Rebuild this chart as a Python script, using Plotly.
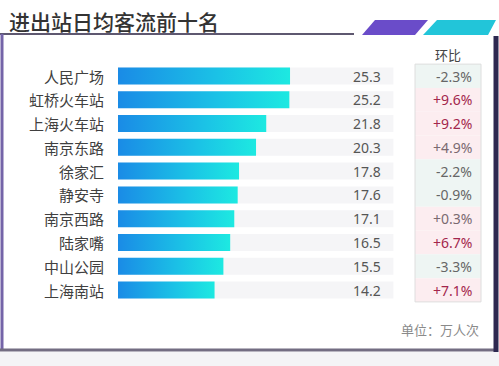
import plotly.graph_objects as go

stations = ["人民广场", "虹桥火车站", "上海火车站", "南京东路", "徐家汇",
            "静安寺", "南京西路", "陆家嘴", "中山公园", "上海南站"]
flows = [25.3, 25.2, 21.8, 20.3, 17.8, 17.6, 17.1, 16.5, 15.5, 14.2]
changes = [-2.3, 9.6, 9.2, 4.9, -2.2, -0.9, 0.3, 6.7, -3.3, 7.1]
title_text = "进出站日均客流前十名"
unit_text = "单位：万人次"
header_text = "环比"

W, H = 499, 366
X0 = 118.0          # pixel where value 0 sits
SX = 6.8            # pixels per unit
Y0 = 76.0           # pixel center of first row
SY = 23.78          # pixels per row
TRACK_MAX = 40.5

def ux(p):
    return (p - X0) / SX

def uy(p):
    return (p - Y0) / SY

CJK = "Noto Sans CJK SC"

fig = go.Figure()

half = 8.5 / SY
# background tracks
for i, v in enumerate(flows):
    fig.add_trace(go.Scatter(
        x=[0, TRACK_MAX, TRACK_MAX, 0, 0],
        y=[i - half, i - half, i + half, i + half, i - half],
        mode="lines", fill="toself", line=dict(width=0),
        fillcolor="#f5f5f7", hoverinfo="skip", showlegend=False))
# gradient bars
for i, v in enumerate(flows):
    fig.add_trace(go.Scatter(
        x=[0, v, v, 0, 0],
        y=[i - half, i - half, i + half, i + half, i - half],
        mode="lines", fill="toself", line=dict(width=0),
        fillgradient=dict(type="horizontal",
                          colorscale=[[0, "#1a8be6"], [0.6, "#1bc4e6"], [1, "#1de9e1"]]),
        hoverinfo="skip", showlegend=False))

annotations = []
shapes = []

# category labels
for i, s in enumerate(stations):
    annotations.append(dict(x=ux(106), y=i, xref="x", yref="y", text=s,
                            showarrow=False, xanchor="right", yanchor="middle",
                            font=dict(family=CJK, size=15, color="#404040")))
# value labels
for i, v in enumerate(flows):
    annotations.append(dict(x=ux(383), y=i, xref="x", yref="y", text=f"{v:.1f}",
                            showarrow=False, xanchor="right", yanchor="middle",
                            font=dict(family="Noto Sans", size=14, color="#555555")))
# change table
for i, c in enumerate(changes):
    pos = c > 0
    fill = "#fcedf0" if pos else "#eef5f3"
    shapes.append(dict(type="rect", xref="x", yref="y",
                       x0=ux(415), x1=ux(481), y0=i - 0.5, y1=i + 0.5,
                       fillcolor=fill, line=dict(width=0), layer="below"))
    txt = f"+{c:.1f}%" if pos else f"{c:.1f}%"
    col = "#a3264c" if c > 5 else ("#7a6a70" if pos else "#666666")
    annotations.append(dict(x=ux(474), y=i, xref="x", yref="y", text=txt,
                            showarrow=False, xanchor="right", yanchor="middle",
                            font=dict(family="Noto Sans", size=14, color=col)))
shapes.append(dict(type="rect", xref="x", yref="y",
                   x0=ux(415), x1=ux(481), y0=-0.5, y1=len(changes) - 0.5,
                   line=dict(color="#dedede", width=1)))
annotations.append(dict(x=ux(448), y=uy(54), xref="x", yref="y", text=header_text,
                        showarrow=False, xanchor="center", yanchor="middle",
                        font=dict(family=CJK, size=13, color="#444444")))
annotations.append(dict(x=ux(481), y=uy(329), xref="x", yref="y", text=unit_text,
                        showarrow=False, xanchor="right", yanchor="middle",
                        font=dict(family=CJK, size=13, color="#8a8a8a")))
# title
annotations.append(dict(x=ux(7), y=uy(21), xref="x", yref="y", text=title_text,
                        showarrow=False, xanchor="left", yanchor="middle",
                        font=dict(family=CJK, size=21, color="#333333", weight=500)))

# frame
shapes.append(dict(type="line", xref="x", yref="y", x0=ux(0), x1=ux(354),
                   y0=uy(34), y1=uy(34), line=dict(color="#5e5870", width=2)))
shapes.append(dict(type="line", xref="x", yref="y", x0=ux(2), x1=ux(2),
                   y0=uy(34), y1=uy(351), line=dict(color="#7464a8", width=3)))
shapes.append(dict(type="line", xref="x", yref="y", x0=ux(0), x1=ux(496),
                   y0=uy(350), y1=uy(350), line=dict(color="#736d82", width=3)))
shapes.append(dict(type="line", xref="x", yref="y", x0=ux(496), x1=ux(496),
                   y0=uy(36), y1=uy(352), line=dict(color="#2d2850", width=5)))
shapes.append(dict(type="rect", xref="x", yref="y", x0=ux(0), x1=ux(499),
                   y0=uy(352), y1=uy(366), fillcolor="#f4f4f6",
                   line=dict(width=0), layer="below"))
# parallelograms
shapes.append(dict(type="path", xref="x", yref="y",
                   path=f"M {ux(362)},{uy(35)} L {ux(375)},{uy(20)} L {ux(428)},{uy(20)} L {ux(415)},{uy(35)} Z",
                   fillcolor="#6a4cc9", line=dict(width=0)))
shapes.append(dict(type="path", xref="x", yref="y",
                   path=f"M {ux(423)},{uy(35)} L {ux(437)},{uy(20)} L {ux(496)},{uy(20)} L {ux(488)},{uy(35)} Z",
                   fillcolor="#22c5d9", line=dict(width=0)))

fig.update_layout(
    width=W, height=H, margin=dict(l=0, r=0, t=0, b=0),
    paper_bgcolor="white", plot_bgcolor="white",
    xaxis=dict(range=[ux(0), ux(W)], visible=False, fixedrange=True),
    yaxis=dict(range=[uy(H), uy(0)], visible=False, fixedrange=True),
    annotations=annotations, shapes=shapes, showlegend=False,
)
fig.write_html("out.html")
